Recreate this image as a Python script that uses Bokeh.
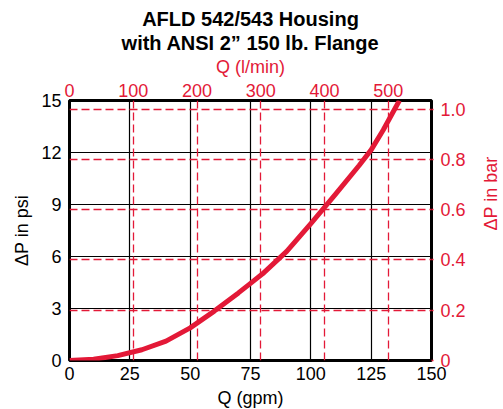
import math
from bokeh.plotting import figure
from bokeh.models import Range1d, LinearAxis, FixedTicker, Grid, Title, Label
from bokeh.embed import file_html
from bokeh.resources import INLINE

# ---- data ----
flow_gpm = [0, 10, 20, 30, 40, 50, 60, 70, 75, 80, 90, 100, 110, 120, 125, 130, 136.7]
dp_psi = [0, 0.07, 0.28, 0.62, 1.12, 1.88, 2.85, 3.9, 4.45, 5.0, 6.3, 7.9, 9.55, 11.25, 12.15, 13.3, 15.0]

gpm_ticks = [0, 25, 50, 75, 100, 125, 150]
psi_ticks = [0, 3, 6, 9, 12, 15]
lmin_ticks = [0, 100, 200, 300, 400, 500]
bar_ticks = [0, 0.2, 0.4, 0.6, 0.8, 1.0]
bar_labels = ["0", "0.2", "0.4", "0.6", "0.8", "1.0"]

title_line1 = "AFLD 542/543 Housing"
title_line2 = "with ANSI 2\u201d 150 lb. Flange"

GPM_TO_LMIN = 3.785411784
PSI_PER_BAR = 14.5037738

RED = "#E31937"
FONT = "Liberation Sans"

p = figure(frame_width=362, frame_height=260, output_backend="svg", toolbar_location=None,
           x_range=Range1d(0, 150), y_range=Range1d(0, 15),
           min_border_left=69, min_border_right=0, min_border_top=100, min_border_bottom=10)
p.extra_x_ranges = {"lmin": Range1d(0, 150 * GPM_TO_LMIN)}
p.extra_y_ranges = {"bar": Range1d(0, 15 / PSI_PER_BAR)}

p.outline_line_color = "black"
p.outline_line_width = 3
p.outline_line_alpha = 1

# black grid
p.xgrid.ticker = FixedTicker(ticks=gpm_ticks)
p.ygrid.ticker = FixedTicker(ticks=psi_ticks)
for g in (p.xgrid, p.ygrid):
    g.grid_line_color = "black"
    g.grid_line_width = 1.2
    g.grid_line_alpha = 1

# red dashed grid
p.add_layout(Grid(dimension=0, ticker=FixedTicker(ticks=lmin_ticks[1:]), x_range_name="lmin",
                  grid_line_color=RED, grid_line_dash="8 4", grid_line_width=1.3))
p.add_layout(Grid(dimension=1, ticker=FixedTicker(ticks=bar_ticks[1:]), y_range_name="bar",
                  grid_line_color=RED, grid_line_dash="8 4", grid_line_width=1.3))

def style_axis(ax, color, standoff_label, standoff_title):
    ax.axis_line_color = None
    ax.major_tick_line_color = None
    ax.minor_tick_line_color = None
    ax.major_tick_out = 0
    ax.major_tick_in = 0
    ax.major_label_text_font = FONT
    ax.major_label_text_font_size = "18px"
    ax.major_label_text_color = color
    ax.axis_label_text_font = FONT
    ax.axis_label_text_font_size = "18px"
    ax.axis_label_text_font_style = "normal"
    ax.axis_label_text_color = color
    ax.major_label_standoff = standoff_label
    ax.axis_label_standoff = standoff_title

# bottom axis
p.xaxis.ticker = FixedTicker(ticks=gpm_ticks)
p.xaxis.axis_label = "Q (gpm)"
style_axis(p.xaxis[0], "black", 6, 5)

# left axis
p.yaxis.ticker = FixedTicker(ticks=psi_ticks)
p.yaxis.axis_label = "\u0394P in psi"
style_axis(p.yaxis[0], "black", 8, 6)

# right axis
right = LinearAxis(y_range_name="bar", ticker=FixedTicker(ticks=bar_ticks),
                   major_label_overrides={t: l for t, l in zip(bar_ticks, bar_labels)})
style_axis(right, RED, 9, 22)
right.major_tick_line_color = RED
right.major_tick_line_width = 1.3
right.major_tick_out = 2
right.major_label_standoff = 7
has_orient = "axis_label_orientation" in right.properties()
if has_orient:
    right.axis_label = "\u0394P in bar"
    right.axis_label_orientation = math.pi / 2
p.add_layout(right, "right")
if not has_orient:
    p.add_layout(Label(x=176.5, y=7.5, text="\u0394P in bar", angle=math.pi / 2,
                       text_align="center", text_baseline="middle", text_font=FONT,
                       text_font_size="18px", text_color=RED))
    p.min_border_right = 71

# top axis
top = LinearAxis(x_range_name="lmin", ticker=FixedTicker(ticks=lmin_ticks), axis_label="Q (l/min)")
style_axis(top, RED, 4, 4)
p.add_layout(top, "above")

for t in (title_line2, title_line1):
    p.add_layout(Title(text=t, align="center", text_font=FONT, text_font_size="20px",
                       text_font_style="bold", text_color="black", standoff=0), "above")
p.title.visible = False

p.line(flow_gpm, dp_psi, line_color=RED, line_width=5, line_join="round")

open("out.html", "w").write(file_html(p, INLINE))
